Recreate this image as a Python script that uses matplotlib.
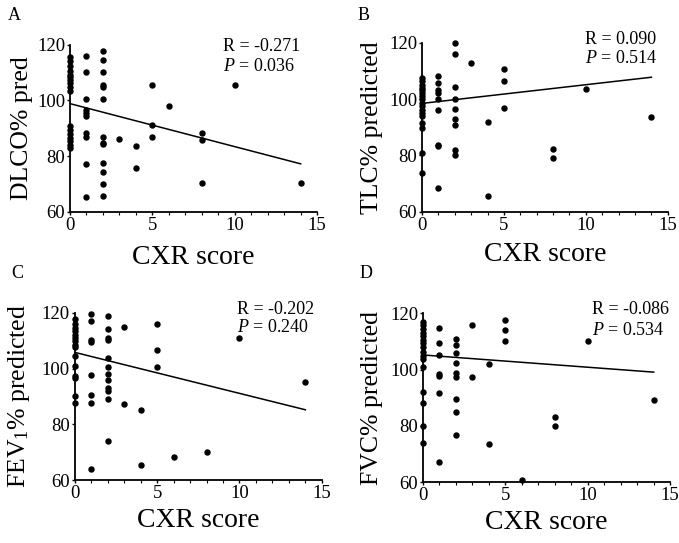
import numpy as np
import matplotlib
matplotlib.use("Agg")
import matplotlib.pyplot as plt
from matplotlib.ticker import MultipleLocator

matplotlib.rcParams.update({
    'font.family': 'Liberation Serif',
    'mathtext.fontset': 'custom',
    'mathtext.rm': 'Liberation Serif',
    'mathtext.it': 'Liberation Serif:italic',
})

# Panel A: DLCO% pred vs CXR score
dlco_x = [0] * 17 + [1] * 10 + [2] * 13 + [3, 4, 4, 5, 5, 5, 6, 8, 8, 8, 10, 14]
dlco_y = [115.5, 114, 112.2, 110.6, 109.2, 108.2, 107.2, 106.2, 104.6, 103.4,
          90.6, 89.4, 88, 86.6, 85.4, 83.8, 82.8,
          116, 110, 100.4, 96.6, 95.4, 94.2, 88.2, 87, 77.2, 65.2,
          117.8, 114.4, 110, 105.6, 104.8, 100.4, 87, 84.8, 84.2, 77.6, 74.4, 70, 65.8,
          86, 83.6, 75.6, 105.6, 91.2, 87, 98, 88.2, 85.6, 70.4, 105.6, 70.4]
dlco_fit = [98.8, 77.2]

# Panel B: TLC% predicted
tlc_x = [0] * 17 + [1] * 9 + [2] * 9 + [3, 4, 4, 5, 5, 5, 8, 8, 10, 14]
tlc_y = [107.6, 106.4, 105.2, 104, 103.2, 102.2, 101.1, 99.9, 98.7, 97.5,
         96.3, 95.1, 94.2, 91.6, 89.8, 80.9, 73.8,
         108.2, 105.6, 103.4, 102.2, 99.9, 96.1, 83.9, 83.3, 68.5,
         120, 116.2, 104.4, 100.1, 96.6, 92.8, 91, 82.1, 80,
         112.9, 91.8, 65.6, 110.8, 106.4, 96.9, 82.4, 79.2, 103.7, 93.6]
tlc_fit = [98.5, 107.8]

# Panel C: FEV1% predicted
fev_x = [0] * 15 + [1] * 8 + [2] * 12 + [3, 3, 4, 4, 5, 5, 5, 6, 8, 10, 14]
fev_y = [117.6, 115.8, 114.6, 113.4, 112.2, 111, 109.8, 108.6, 107.8, 104.4,
         100.8, 97.4, 96.6, 90, 87.6,
         119.6, 117, 110.4, 109.4, 97.8, 90.6, 87.6, 64,
         118.8, 114, 111, 110.2, 103.8, 100.6, 98.2, 95.8, 93, 91.8, 89, 74.1,
         115, 87.4, 85, 65.4, 115.8, 106.6, 100.4, 68.1, 69.9, 110.8, 95]
fev_fit = [105.8, 85.2]

# Panel D: FVC% predicted
fvc_x = [0] * 16 + [1] * 7 + [2] * 9 + [3, 3, 4, 4, 5, 5, 5, 6, 8, 8, 10, 14]
fvc_y = [117, 115.9, 114.3, 113.1, 112, 110.5, 109.3, 107.9, 106.4, 104.9,
         103.7, 101.1, 92.2, 88, 79.8, 73.8,
         114.7, 109.6, 105.2, 98.5, 97.8, 91.8, 67,
         110.8, 108.8, 106, 102.5, 98.7, 97.5, 89.5, 85.1, 76.8,
         115.9, 97.3, 101.9, 73.5, 117.6, 114.1, 110.3, 60.6, 83.3, 80, 110.3, 89.2]
fvc_fit = [105.2, 99.1]

fit_x = [0, 14]
panel_letters = ["A", "B", "C", "D"]
ylabels = ["DLCO% pred", "TLC% predicted", "FEV$_1$% predicted", "FVC% predicted"]
r_texts = ["R = -0.271", "R = 0.090", "R = -0.202", "R = -0.086"]
p_texts = ["$P$ = 0.036", "$P$ = 0.514", "$P$ = 0.240", "$P$ = 0.534"]

panels = [(dlco_x, dlco_y, dlco_fit), (tlc_x, tlc_y, tlc_fit),
          (fev_x, fev_y, fev_fit), (fvc_x, fvc_y, fvc_fit)]

fig = plt.figure(figsize=(6.79, 5.43), dpi=100)

rects = [[0.103, 0.610, 0.364, 0.308],
         [0.6215, 0.610, 0.362, 0.311],
         [0.110, 0.116, 0.364, 0.308],
         [0.623, 0.112, 0.364, 0.311]]
text_x = [0.62, 0.663, 0.656, 0.684]
r_y = [0.99, 1.02, 1.02, 1.02]
p_y = [0.87, 0.905, 0.91, 0.90]
ylab_x = [-0.15, -0.159, -0.174, -0.162]
xlab_y = [-0.20, -0.18, -0.17, -0.166]
letter_pos = [(0.012, 0.972), (0.527, 0.972), (0.017, 0.497), (0.530, 0.497)]

for i, (xs, ys, fit) in enumerate(panels):
    ax = fig.add_axes(rects[i])
    ax.plot(xs, ys, 'o', color='black', markersize=3.6, clip_on=False, zorder=3)
    ax.plot(fit_x, fit, color='black', linewidth=1.1)
    ax.set_xlim(0, 15)
    ax.set_ylim(60, 120)
    ax.set_xticks([0, 5, 10, 15])
    ax.set_yticks([60, 80, 100, 120])
    ax.xaxis.set_minor_locator(MultipleLocator(1))
    ax.spines['top'].set_visible(False)
    ax.spines['right'].set_visible(False)
    for s in ['left', 'bottom']:
        ax.spines[s].set_linewidth(1.3)
    ax.tick_params(labelsize=13.5, width=1, length=2.5, pad=1)
    ax.tick_params(which='minor', width=0.8, length=2)
    ax.set_ylabel(ylabels[i], fontsize=18.5)
    ax.yaxis.set_label_coords(ylab_x[i], 0.5)
    ax.set_xlabel("CXR score", fontsize=20)
    ax.xaxis.set_label_coords(0.5, xlab_y[i])
    ax.text(text_x[i], r_y[i], r_texts[i], transform=ax.transAxes,
            fontsize=13, va='center', ha='left')
    ax.text(text_x[i], p_y[i], p_texts[i], transform=ax.transAxes,
            fontsize=13, va='center', ha='left')
    fig.text(letter_pos[i][0], letter_pos[i][1], panel_letters[i],
             fontsize=13, va='center', ha='left')

fig.savefig("out.png", dpi=100)
